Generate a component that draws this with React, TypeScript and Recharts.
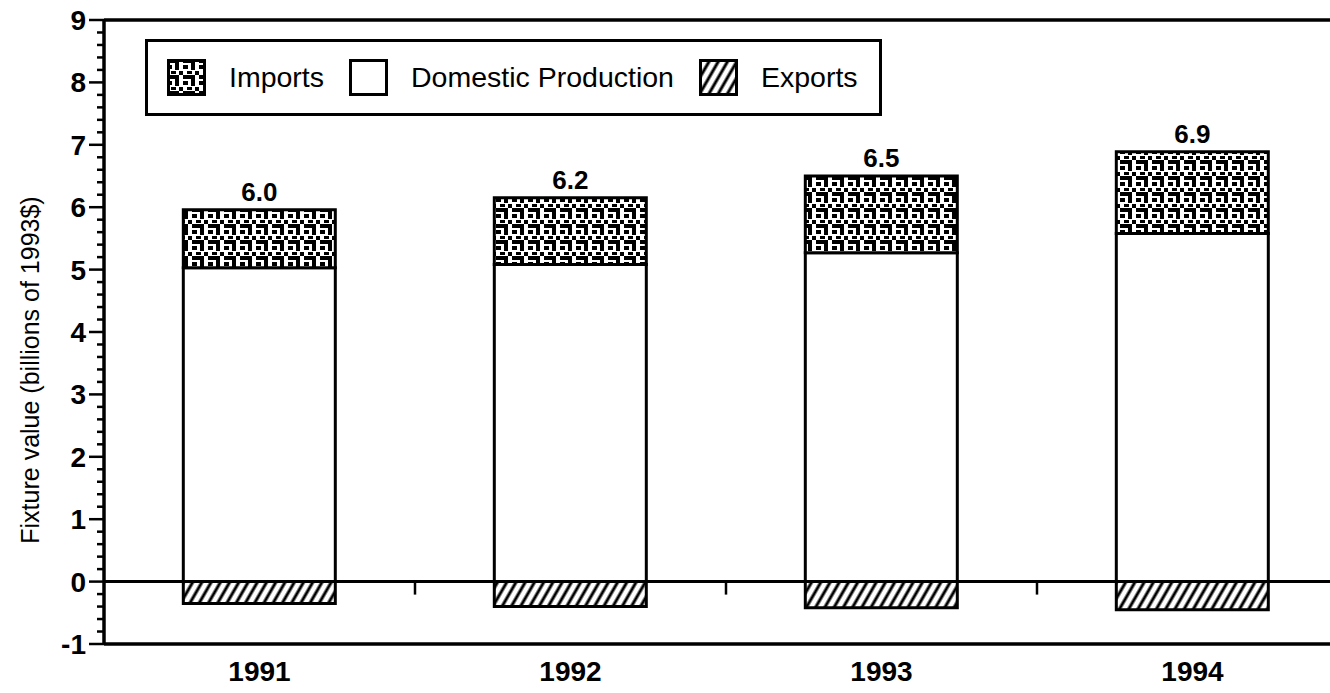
import React from "react";
import {
  BarChart,
  Bar,
  XAxis,
  YAxis,
  ReferenceLine,
  Legend,
  LabelList,
} from "recharts";

// values (billions of 1993$)
const years = ["1991", "1992", "1993", "1994"];
const domestic = [5.03, 5.08, 5.27, 5.58];
const imports = [0.93, 1.07, 1.23, 1.31];
const exports = [-0.35, -0.4, -0.42, -0.45];
const totalLabels = ["6.0", "6.2", "6.5", "6.9"];

// major + minor y ticks (every 0.2)
const yTicks = [
  -1, -0.8, -0.6, -0.4, -0.2, 0, 0.2, 0.4, 0.6, 0.8, 1, 1.2, 1.4, 1.6, 1.8, 2,
  2.2, 2.4, 2.6, 2.8, 3, 3.2, 3.4, 3.6, 3.8, 4, 4.2, 4.4, 4.6, 4.8, 5, 5.2, 5.4,
  5.6, 5.8, 6, 6.2, 6.4, 6.6, 6.8, 7, 7.2, 7.4, 7.6, 7.8, 8, 8.2, 8.4, 8.6, 8.8,
  9,
];

const data = years.map((year, i) => ({
  year,
  domestic: domestic[i],
  imports: imports[i],
  exports: exports[i],
  label: totalLabels[i],
}));

const FONT = "'Liberation Sans', Arial, Helvetica, sans-serif";

function Patterns({ suffix = "" }: { suffix?: string }) {
  return (
    <defs>
      <pattern id={`imp${suffix}`} patternUnits="userSpaceOnUse" width={16} height={16}>
        <rect width={16} height={16} fill="#fff" />
        <rect x={0} y={0} width={12} height={4} fill="#000" />
        <rect x={8} y={0} width={4} height={11} fill="#000" />
        <rect x={0} y={6} width={5} height={4} fill="#000" />
        <rect x={12} y={12} width={4} height={4} fill="#000" />
        <rect x={4} y={12} width={5} height={3} fill="#000" />
      </pattern>
      <pattern
        id={`hatch${suffix}`}
        patternUnits="userSpaceOnUse"
        width={8}
        height={8}
        patternTransform="rotate(30)"
      >
        <rect width={8} height={8} fill="#fff" />
        <line x1={2} y1={0} x2={2} y2={8} stroke="#000" strokeWidth={3} />
      </pattern>
    </defs>
  );
}

function YTick(props: any) {
  const { x, y, payload } = props;
  const v = payload.value;
  const major = Number.isInteger(v);
  return (
    <g>
      <line x1={x - (major ? 15 : 7)} x2={x} y1={y} y2={y} stroke="#000" strokeWidth={2.5} />
      {major && (
        <text
          x={x - 18}
          y={y}
          dy="0.36em"
          textAnchor="end"
          fontSize={28}
          fontWeight="bold"
          fontFamily={FONT}
          fill="#000"
        >
          {v}
        </text>
      )}
    </g>
  );
}

// zero line with small tick marks at the category boundaries
function ZeroLine(props: any) {
  const { x1, x2, y1 } = props;
  const n = years.length;
  const step = (x2 - x1) / n;
  return (
    <g>
      <line x1={x1} x2={x2} y1={y1} y2={y1} stroke="#000" strokeWidth={3} />
      {years.slice(1).map((_, i) => (
        <line
          key={i}
          x1={x1 + step * (i + 1)}
          x2={x1 + step * (i + 1)}
          y1={y1}
          y2={y1 + 13}
          stroke="#000"
          strokeWidth={2.5}
        />
      ))}
    </g>
  );
}

const legendItems = [
  { name: "Imports", fill: "url(#imp-lg)" },
  { name: "Domestic Production", fill: "#fff" },
  { name: "Exports", fill: "url(#hatch-lg)" },
];

function LegendBox() {
  return (
    <div
      style={{
        border: "3.5px solid #000",
        width: 712,
        height: 71,
        boxSizing: "content-box",
        display: "flex",
        alignItems: "center",
        paddingLeft: 19,
        fontFamily: FONT,
        fontSize: 28.5,
        whiteSpace: "nowrap",
        background: "#fff",
      }}
    >
      {legendItems.map((it, i) => (
        <div
          key={it.name}
          style={{
            display: "flex",
            alignItems: "center",
            flexShrink: 0,
            marginRight: i < legendItems.length - 1 ? 25 : 0,
          }}
        >
          <svg width={39} height={37} style={{ marginRight: 23, flexShrink: 0 }}>
            <Patterns suffix="-lg" />
            <rect x={1.5} y={1.5} width={36} height={34} fill={it.fill} stroke="#000" strokeWidth={3} />
          </svg>
          <span style={{ color: "#000" }}>{it.name}</span>
        </div>
      ))}
    </div>
  );
}

export default function App() {
  return (
    <div
      style={{
        position: "absolute",
        left: 0,
        top: 0,
        width: 1330,
        height: 693,
        overflow: "hidden",
        background: "#fff",
      }}
    >
      <BarChart
        width={1360}
        height={693}
        data={data}
        stackOffset="sign"
        barCategoryGap="25.5%"
        margin={{ top: 20, right: 12, left: 0, bottom: 0 }}
      >
        <Patterns />
        <XAxis
          dataKey="year"
          height={49}
          axisLine={{ stroke: "#000", strokeWidth: 3.5 }}
          tickLine={false}
          tickSize={0}
          tickMargin={17}
          tick={{ fontSize: 28, fontWeight: "bold", fill: "#000", fontFamily: FONT }}
        />
        <YAxis
          width={104}
          domain={[-1, 9]}
          ticks={yTicks}
          interval={0}
          allowDataOverflow
          axisLine={{ stroke: "#000", strokeWidth: 3.5 }}
          tickLine={false}
          tickSize={0}
          tickMargin={0}
          tick={<YTick />}
          label={{
            content: () => (
              <text
                x={30}
                y={370}
                transform="rotate(-90 30 370)"
                textAnchor="middle"
                dominantBaseline="central"
                fontSize={25}
                fontFamily={FONT}
                fill="#000"
              >
                Fixture value (billions of 1993$)
              </text>
            ),
          }}
        />
        <ReferenceLine y={9} stroke="#000" strokeWidth={3.5} />
        <Legend
          layout="vertical"
          align="center"
          verticalAlign="middle"
          wrapperStyle={{ top: 39, left: 145, width: "auto" }}
          content={() => <LegendBox />}
        />
        <Bar
          dataKey="domestic"
          stackId="a"
          fill="#fff"
          stroke="#000"
          strokeWidth={3}
          isAnimationActive={false}
        />
        <Bar
          dataKey="imports"
          stackId="a"
          fill="url(#imp)"
          stroke="#000"
          strokeWidth={3}
          isAnimationActive={false}
        >
          <LabelList
            dataKey="label"
            position="top"
            offset={9}
            style={{ fontSize: 26, fontWeight: "bold", fill: "#000", fontFamily: FONT }}
          />
        </Bar>
        <Bar
          dataKey="exports"
          stackId="a"
          fill="url(#hatch)"
          stroke="#000"
          strokeWidth={3}
          isAnimationActive={false}
        />
        <ReferenceLine y={0} shape={<ZeroLine />} />
      </BarChart>
    </div>
  );
}
